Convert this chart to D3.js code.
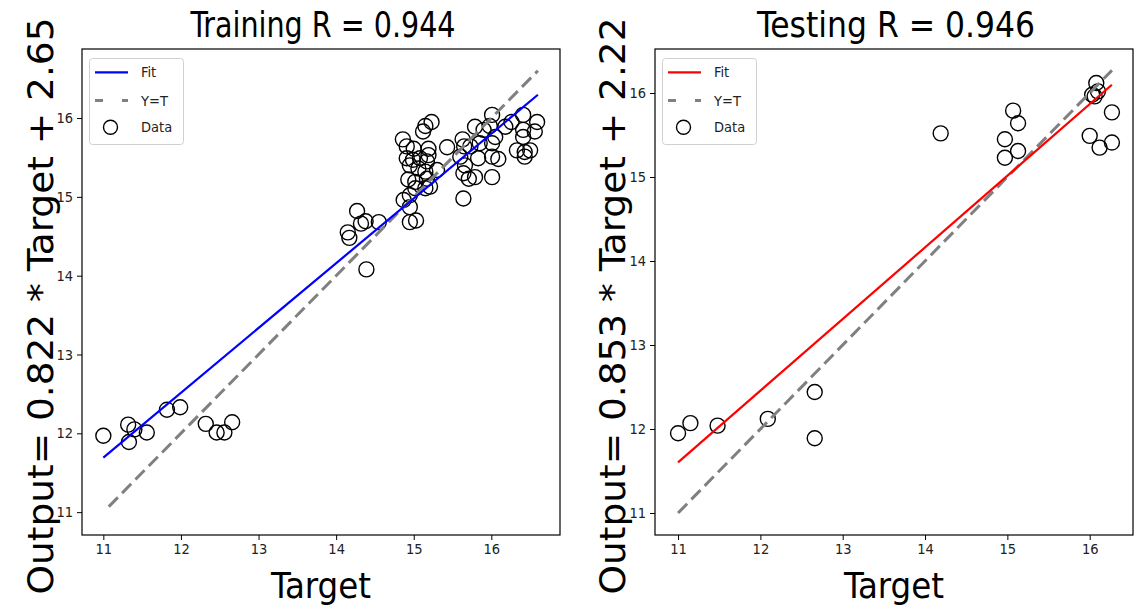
<!DOCTYPE html>
<html><head><meta charset="utf-8">
<script src="https://cdn.jsdelivr.net/npm/d3@7"></script>
<style>body{margin:0;background:#fff}svg{display:block}text{font-family:"DejaVu Sans Condensed","DejaVu Sans",sans-serif}</style>
</head><body><svg id="c" width="1140" height="614"></svg>
<script>
// ---- data ----
const trainTarget = [11.0,11.32,11.33,11.40,11.56,11.82,11.99,12.32,12.46,12.56,12.66,
 14.15,14.17,14.27,14.32,14.38,14.55,14.39,
 14.86,15.15,15.23,15.12,14.91,15.0,15.19,14.91,14.99,15.08,15.19,15.17,14.95,15.06,15.15,15.30,14.93,15.02,15.17,15.21,15.15,15.02,14.95,14.87,14.95,14.95,15.03,
 15.43,15.63,15.65,15.79,15.90,16.01,15.98,16.05,16.01,15.85,15.73,15.60,15.83,16.01,16.09,15.66,15.64,15.71,15.79,16.01,15.64,
 16.26,16.18,16.41,16.59,16.56,16.41,16.41,16.33,16.43,16.50,16.43];
const trainOutput = [11.97,12.11,11.89,12.05,12.01,12.30,12.33,12.12,12.01,12.01,12.14,
 14.55,14.48,14.82,14.66,14.69,14.68,14.08,
 15.73,15.90,15.95,15.83,15.64,15.61,15.61,15.49,15.47,15.49,15.53,15.45,15.40,15.36,15.32,15.34,15.22,15.19,15.23,15.13,15.11,15.11,15.02,14.96,14.87,14.68,14.70,
 15.63,15.73,15.64,15.89,15.85,16.04,15.90,15.76,15.68,15.68,15.64,15.51,15.49,15.51,15.48,15.40,15.30,15.23,15.25,15.25,14.98,
 15.95,15.89,16.04,15.95,15.83,15.85,15.76,15.59,15.57,15.59,15.51];
const testTarget = [11.0,11.15,11.48,12.09,12.66,12.66,14.19,15.07,15.13,14.97,15.13,14.97,16.08,16.10,16.03,16.06,16.27,16.0,16.12,16.27];
const testOutput = [11.95,12.07,12.04,12.12,12.44,11.89,15.52,15.79,15.64,15.45,15.31,15.23,16.12,16.02,15.98,15.96,15.77,15.49,15.35,15.41];
const trainFit = {slope:0.822, intercept:2.65, x:[11.0,16.6]};
const testFit = {slope:0.853, intercept:2.22, x:[11.0,16.27]};
const trainYT = [11.07,16.6];
const testYT = [11.0,16.27];
const ticks = [11,12,13,14,15,16];
const titles = ["Training R = 0.944","Testing R = 0.946"];
const ylabels = ["Output= 0.822 * Target + 2.65","Output= 0.853 * Target + 2.22"];
const xlabel = "Target";
const legendLabels = ["Fit","Y=T","Data"];

const svg = d3.select("#c");
const panels = [
 {L:82,R:560,T:49,B:535, xd:[10.725,16.885], yd:[10.71,16.876], tx:trainTarget, ty:trainOutput, fit:trainFit, yt:trainYT, color:"#0000ff",
  title:titles[0], ylab:ylabels[0], titleLen:265, ylabX:40},
 {L:655,R:1133,T:49,B:535, xd:[10.72,16.526], yd:[10.738,16.524], tx:testTarget, ty:testOutput, fit:testFit, yt:testYT, color:"#ff0000",
  title:titles[1], ylab:ylabels[1], titleLen:278, ylabX:612}
];

panels.forEach(p=>{
  const x = d3.scaleLinear().domain(p.xd).range([p.L,p.R]);
  const y = d3.scaleLinear().domain(p.yd).range([p.B,p.T]);
  const g = svg.append("g");
  g.selectAll("circle.pt").data(p.tx.map((v,i)=>[v,p.ty[i]])).enter().append("circle")
    .attr("cx",d=>x(d[0])).attr("cy",d=>y(d[1])).attr("r",7.5)
    .attr("fill","none").attr("stroke","#000").attr("stroke-width",1.4);
  g.append("line").attr("x1",x(p.yt[0])).attr("y1",y(p.yt[0])).attr("x2",x(p.yt[1])).attr("y2",y(p.yt[1]))
    .attr("stroke","#808080").attr("stroke-width",3).attr("stroke-dasharray","13,6");
  const f = v=>p.fit.slope*v+p.fit.intercept;
  g.append("line").attr("x1",x(p.fit.x[0])).attr("y1",y(f(p.fit.x[0]))).attr("x2",x(p.fit.x[1])).attr("y2",y(f(p.fit.x[1])))
    .attr("stroke",p.color).attr("stroke-width",2.2);
  const fmt = d3.format("d");
  const xa = g.append("g").attr("transform",`translate(0,${p.B})`).call(d3.axisBottom(x).tickValues(ticks).tickFormat(fmt).tickSize(5).tickPadding(4));
  const ya = g.append("g").attr("transform",`translate(${p.L},0)`).call(d3.axisLeft(y).tickValues(ticks).tickFormat(fmt).tickSize(5).tickPadding(4));
  [xa,ya].forEach(a=>{a.select(".domain").remove(); a.selectAll("text").attr("font-size",14.5).attr("fill","#222").style("font-family",'"DejaVu Sans Condensed","DejaVu Sans",sans-serif'); a.selectAll("line").attr("stroke","#000");});
  g.append("rect").attr("x",p.L).attr("y",p.T).attr("width",p.R-p.L).attr("height",p.B-p.T)
    .attr("fill","none").attr("stroke","#000").attr("stroke-width",1.2);
  const cx=(p.L+p.R)/2;
  g.append("text").attr("x",cx+2).attr("y",37).attr("text-anchor","middle").attr("font-size",36)
    .attr("textLength",p.titleLen).attr("lengthAdjust","spacingAndGlyphs").text(p.title);
  g.append("text").attr("x",cx).attr("y",598).attr("text-anchor","middle").attr("font-size",35)
    .attr("textLength",100).attr("lengthAdjust","spacingAndGlyphs").text(xlabel);
  g.append("text").attr("transform",`translate(${p.ylabX+13},306) rotate(-90)`).attr("text-anchor","middle").attr("font-size",36)
    .attr("textLength",577).attr("lengthAdjust","spacingAndGlyphs").text(p.ylab);
  const lx=p.L+7.5, ly=58.5;
  const lg=g.append("g");
  lg.append("rect").attr("x",lx).attr("y",ly).attr("width",94).attr("height",86).attr("rx",3)
    .attr("fill","#fff").attr("fill-opacity",0.8).attr("stroke","#d0d0d0");
  lg.append("line").attr("x1",lx+5.5).attr("x2",lx+38.5).attr("y1",72.3).attr("y2",72.3).attr("stroke",p.color).attr("stroke-width",2.2);
  lg.append("line").attr("x1",lx+5.5).attr("x2",lx+38.5).attr("y1",100.5).attr("y2",100.5).attr("stroke","#808080").attr("stroke-width",3).attr("stroke-dasharray","8,19");
  lg.append("circle").attr("cx",lx+21).attr("cy",127.3).attr("r",7).attr("fill","none").attr("stroke","#000").attr("stroke-width",1.4);
  legendLabels.forEach((t,i)=>{
    lg.append("text").attr("x",lx+51.5).attr("y",[72.3,100.5,127.3][i]+5).attr("font-size",14.5).attr("fill","#222").text(t);
  });
});
</script></body></html>
